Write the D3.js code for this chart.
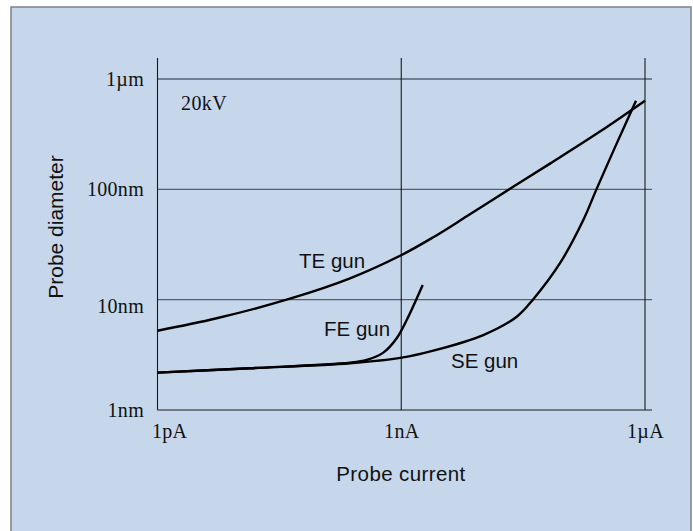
<!DOCTYPE html>
<html>
<head>
<meta charset="utf-8">
<script src="https://cdn.jsdelivr.net/npm/d3@7"></script>
<style>
  html, body { margin: 0; padding: 0; background: #ffffff; }
  svg { display: block; }
</style>
</head>
<body>
<svg id="chart" width="693" height="531"></svg>
<script>
// ---- data (current in pA, diameter in nm) ----
const xTicks = [1, 1e3, 1e6];
const xTickLabels = ["1pA", "1nA", "1\u00b5A"];
const yTicks = [1, 10, 100, 1000];
const yTickLabels = ["1nm", "10nm", "100nm", "1\u00b5m"];

const teCurrent  = [1, 5.35, 42.7, 234, 1010, 2480, 6400, 21800, 67700, 279000, 1000000];
const teDiameter = [5.23, 6.78, 10.2, 15.6, 25.4, 36.8, 56.9, 101, 171, 334, 636];

const feCurrent  = [1, 13.8, 234, 376, 601, 879, 1167, 1837];
const feDiameter = [2.18, 2.39, 2.68, 2.84, 3.31, 4.47, 6.54, 13.6];

const seCurrent  = [1, 13.8, 234, 1014, 2480, 10230, 26400, 42200, 89900, 174000, 254000, 449000, 775000];
const seDiameter = [2.18, 2.39, 2.65, 2.98, 3.45, 4.78, 7.01, 10.1, 21.4, 52.7, 101, 261, 636];

const curveNames = ["TE gun", "FE gun", "SE gun"];
const voltageLabel = "20kV";
const xTitle = "Probe current";
const yTitle = "Probe diameter";

// ---- drawing ----
const svg = d3.select("#chart");
const serif = "'Liberation Serif', 'Times New Roman', serif";
const sans = "'Liberation Sans', Arial, sans-serif";

svg.append("rect")
  .attr("x", 11).attr("y", 7).attr("width", 680).attr("height", 530)
  .attr("fill", "#c6d7eb").attr("stroke", "#7d8085").attr("stroke-width", 1.5);

const x = d3.scaleLog().domain([1, 1e6]).range([157.5, 645]);
const y = d3.scaleLog().domain([1, 1000]).range([410, 79]);

const topY = 58, rightX = 652;

// horizontal gridlines (including bottom axis)
svg.append("g").selectAll("line").data(yTicks).join("line")
  .attr("x1", x(1)).attr("x2", rightX)
  .attr("y1", d => y(d)).attr("y2", d => y(d))
  .attr("stroke", d => d === 1 ? "#1a1a1a" : "#56606b")
  .attr("stroke-width", d => d === 1 ? 1.2 : 1.4);

// vertical gridlines (including left axis)
svg.append("g").selectAll("line").data(xTicks).join("line")
  .attr("x1", d => x(d)).attr("x2", d => x(d))
  .attr("y1", topY).attr("y2", y(1))
  .attr("stroke", "#1a1a1a").attr("stroke-width", 1.1);

// y axis tick labels
const yAxis = d3.axisLeft(y).tickValues(yTicks)
  .tickFormat((d, i) => yTickLabels[i]).tickSize(0).tickPadding(0);
const yg = svg.append("g").attr("transform", "translate(144,0)").call(yAxis);
yg.select(".domain").remove();
yg.selectAll("text")
  .attr("font-family", serif).attr("font-size", 20).attr("letter-spacing", 0.3)
  .attr("fill", "#111").attr("dy", "0.32em");
yg.selectAll("text").filter(d => d === 10).attr("dy", 13);

// x axis tick labels
const xAxis = d3.axisBottom(x).tickValues(xTicks)
  .tickFormat((d, i) => xTickLabels[i]).tickSize(0).tickPadding(0);
const xg = svg.append("g").attr("transform", "translate(0,424)").call(xAxis);
xg.select(".domain").remove();
xg.selectAll("text")
  .attr("font-family", serif).attr("font-size", 20).attr("letter-spacing", 0.3)
  .attr("fill", "#111").attr("dy", "0.71em");
xg.selectAll("text").filter((d, i) => i === 0)
  .attr("text-anchor", "start").attr("dx", -6);

// curves
const line = d3.line().x(d => x(d[0])).y(d => y(d[1])).curve(d3.curveCatmullRom.alpha(0.5));
const series = [
  d3.zip(teCurrent, teDiameter),
  d3.zip(feCurrent, feDiameter),
  d3.zip(seCurrent, seDiameter)
];
svg.append("g").selectAll("path").data(series).join("path")
  .attr("d", line)
  .attr("fill", "none").attr("stroke", "#000").attr("stroke-width", 2.4)
  .attr("stroke-linecap", "butt");

// curve labels
const labelPos = [[299, 268], [324, 336], [451, 368]];
svg.append("g").selectAll("text").data(curveNames).join("text")
  .attr("x", (d, i) => labelPos[i][0]).attr("y", (d, i) => labelPos[i][1])
  .attr("font-family", sans).attr("font-size", 20.5).attr("fill", "#111")
  .text(d => d);

// 20kV
svg.append("text").attr("x", 181).attr("y", 110)
  .attr("font-family", serif).attr("font-size", 20).attr("letter-spacing", 0.4).attr("fill", "#111")
  .text(voltageLabel);

// axis titles
svg.append("text").attr("x", 401).attr("y", 481)
  .attr("text-anchor", "middle")
  .attr("font-family", sans).attr("font-size", 20.5).attr("letter-spacing", 0.4).attr("fill", "#111")
  .text(xTitle);

svg.append("text")
  .attr("transform", "translate(63,227) rotate(-90)")
  .attr("text-anchor", "middle")
  .attr("font-family", sans).attr("font-size", 21).attr("fill", "#111")
  .text(yTitle);
</script>
</body>
</html>
